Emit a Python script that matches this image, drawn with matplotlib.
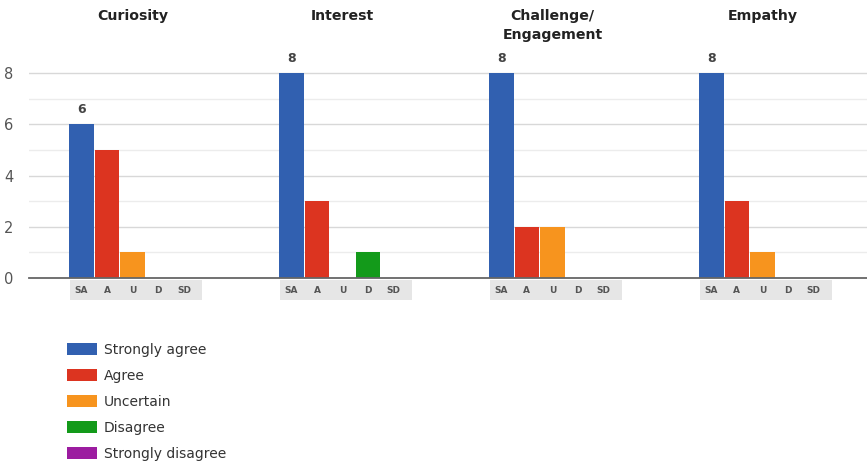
import matplotlib.pyplot as plt
from matplotlib.patches import Patch, Rectangle
from matplotlib.ticker import MultipleLocator

# Survey responses per construct
groups = ["Curiosity", "Interest", "Challenge/\nEngagement", "Empathy"]
responses = ["SA", "A", "U", "D", "SD"]
response_names = ["Strongly agree", "Agree", "Uncertain", "Disagree", "Strongly disagree"]
curiosity = [6, 5, 1, 0, 0]
interest = [8, 3, 0, 1, 0]
challenge = [8, 2, 2, 0, 0]
empathy = [8, 3, 1, 0, 0]
series = [curiosity, interest, challenge, empathy]

colors = ["#3160b0", "#dc3420", "#f7941e", "#139a1a", "#9c1ca0"]

W, H = 867, 463
fig = plt.figure(figsize=(W / 100, H / 100), dpi=100)

unit_px = 25.6
left_px, base_px = 29, 278
ymax = 8.4
top_px = base_px - ymax * unit_px
ax = fig.add_axes([left_px / W, 1 - base_px / H, 1 - left_px / W, (base_px - top_px) / H])

first_center = 2.05
group_step = 8.2
bar_w = 0.96

for g, vals in enumerate(series):
    x0 = first_center + group_step * g
    xs = [x0 + i for i in range(len(responses))]
    ax.bar(xs, vals, width=bar_w, color=colors, zorder=3)
    # value label above the first bar
    ax.text(xs[0], vals[0] + 0.32, str(vals[0]), ha="center", va="bottom",
            fontsize=9, fontweight="bold", color="#444444")
    # shaded category strip below the baseline
    ax.add_patch(Rectangle((xs[0] - 0.45, -0.86), 5.15, 0.78, facecolor="#e6e6e6",
                           edgecolor="none", clip_on=False, zorder=1))
    for x, lab in zip(xs, responses):
        ax.text(x, -0.49, lab, ha="center", va="center", fontsize=6.5,
                fontweight="bold", color="#555555", clip_on=False)
    # group title
    title_y = 1 - 16 / H if "\n" not in groups[g] else 1 - 25.5 / H
    fig.text((left_px + (x0 + 2) * unit_px) / W, title_y, groups[g], ha="center",
             va="center", fontsize=10.2, fontweight="bold", color="#222222",
             linespacing=1.45)

ax.set_xlim(0, (W - left_px) / unit_px)
ax.set_ylim(0, ymax)
ax.yaxis.set_major_locator(MultipleLocator(2))
ax.yaxis.set_minor_locator(MultipleLocator(1))
ax.grid(axis="y", which="major", color="#d8d8d8", linewidth=1, zorder=0)
ax.grid(axis="y", which="minor", color="#ececec", linewidth=1, zorder=0)
ax.set_xticks([])
for s in ["top", "right", "left"]:
    ax.spines[s].set_visible(False)
ax.spines["bottom"].set_color("#666666")
ax.spines["bottom"].set_linewidth(1.3)
ax.spines["bottom"].set_zorder(4)
ax.tick_params(axis="y", which="both", length=0, labelsize=10.5, labelcolor="#555555", pad=11)

handles = [Patch(facecolor=c, edgecolor="none") for c in colors]
fig.legend(handles, response_names, loc="upper left",
           bbox_to_anchor=(67 / W, 1 - 343 / H), frameon=False, fontsize=10,
           handlelength=2.15, handleheight=1.0, labelspacing=0.86, handletextpad=0.5,
           borderpad=0, borderaxespad=0, labelcolor="#333333")

fig.savefig("out.png", dpi=100)
